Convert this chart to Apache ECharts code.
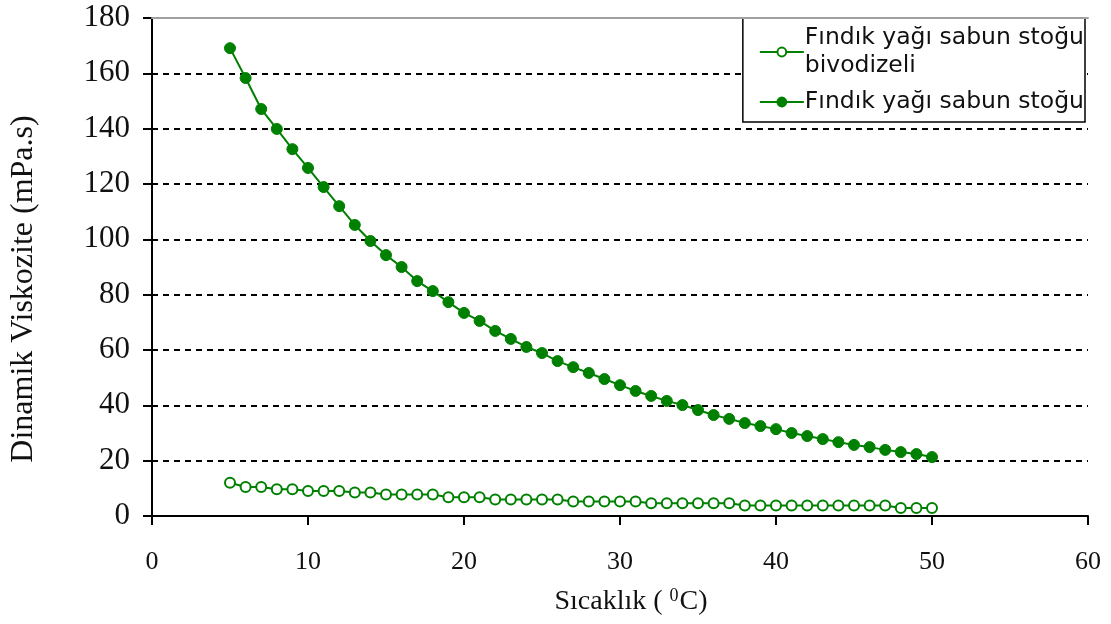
<!DOCTYPE html>
<html>
<head>
<meta charset="utf-8">
<script src="https://cdn.jsdelivr.net/npm/echarts@6/dist/echarts.min.js"></script>
<style>html,body{margin:0;padding:0;background:#fff;}#c{width:1111px;height:624px;}</style>
</head>
<body>
<div id="c"></div>
<script>
var temps = [5,6,7,8,9,10,11,12,13,14,15,16,17,18,19,20,21,22,23,24,25,26,27,28,29,30,31,32,33,34,35,36,37,38,39,40,41,42,43,44,45,46,47,48,49,50];
var biodiesel = [12.0,10.5,10.5,9.7,9.7,9.0,9.0,9.0,8.5,8.5,7.8,7.8,7.8,7.8,6.8,6.8,6.8,6.0,6.0,6.0,6.0,6.0,5.2,5.2,5.2,5.2,5.2,4.6,4.6,4.6,4.6,4.6,4.6,3.8,3.8,3.8,3.8,3.8,3.8,3.8,3.8,3.8,3.8,2.9,2.9,2.9];
var soapstock = [169.1,158.3,147.1,139.9,132.6,125.8,118.9,112.0,105.2,99.4,94.3,90.0,84.9,81.3,77.3,73.4,70.5,66.9,64.0,61.1,58.9,56.0,53.8,51.7,49.5,47.3,45.2,43.4,41.6,40.1,38.3,36.5,35.1,33.6,32.5,31.4,30.0,28.9,27.8,26.7,25.7,24.9,23.9,23.1,22.4,21.3];
var seriesNames = ['Fındık yağı sabun stoğu\nbivodizeli', 'Fındık yağı sabun stoğu'];
var yAxisTitle = 'Dinamik Viskozite (mPa.s)';

function pairs(xs, ys){ return xs.map(function(x,i){ return [x, ys[i]]; }); }

var green = '#008000';
var chart = echarts.init(document.getElementById('c'), null, {renderer:'canvas'});
chart.setOption({
  animation: false,
  backgroundColor: '#ffffff',
  grid: {left: 152, right: 23, top: 18, bottom: 108, containLabel: false},
  legend: {
    orient: 'vertical',
    right: 26, top: 18,
    backgroundColor: '#ffffff',
    borderColor: '#000000', borderWidth: 1.5,
    padding: [6, 1, 6, 16],
    itemGap: 8,
    itemWidth: 44, itemHeight: 11,
    textStyle: {fontFamily: 'DejaVu Sans', fontSize: 23.5, color: '#111', lineHeight: 28, padding: [0,0,0,-4]},
    data: seriesNames
  },
  xAxis: [{
    type: 'value', min: 0, max: 60, interval: 10,
    axisLine: {show: true, onZero: false, lineStyle: {color: '#000', width: 2}},
    axisTick: {show: true, inside: false, length: 9, lineStyle: {color: '#000', width: 2}},
    axisLabel: {margin: 33, fontFamily: 'Liberation Serif', fontSize: 26, color: '#111'},
    splitLine: {show: false},
    name: '{a|Sıcaklık (}{s|0}{a|C)}',
    nameLocation: 'middle', nameGap: 71,
    nameTextStyle: {
      fontFamily: 'Liberation Serif', fontSize: 28, color: '#111', padding: [0,0,0,22],
      rich: {
        a: {fontFamily: 'Liberation Serif', fontSize: 28, color: '#111', lineHeight: 30},
        s: {fontFamily: 'Liberation Serif', fontSize: 18, color: '#111', verticalAlign: 'top', padding: [0,1,10,7], lineHeight: 30}
      }
    }
  }, {
    type: 'value', min: 0, max: 60, position: 'top', z: 10,
    axisLine: {show: true, onZero: false, lineStyle: {color: '#a0a0a0', width: 2}},
    axisTick: {show: false}, axisLabel: {show: false}, splitLine: {show: false}
  }],
  yAxis: {
    type: 'value', min: 0, max: 180, interval: 20,
    axisLine: {show: true, onZero: false, lineStyle: {color: '#000', width: 2}},
    axisTick: {show: true, inside: false, length: 9, lineStyle: {color: '#000', width: 2}},
    axisLabel: {margin: 22, fontFamily: 'Liberation Serif', fontSize: 31, color: '#111'},
    splitLine: {show: true, lineStyle: {color: '#000', width: 2, type: [6, 5]}},
    name: yAxisTitle,
    nameLocation: 'middle', nameGap: 112, nameRotate: 90,
    nameTextStyle: {fontFamily: 'Liberation Serif', fontSize: 32, color: '#111', padding: [0, 44, 0, 0]}
  },
  series: [{
    name: seriesNames[0], type: 'line', xAxisIndex: 0,
    data: pairs(temps, biodiesel),
    symbol: 'circle', symbolSize: 10, showAllSymbol: true,
    lineStyle: {color: green, width: 2},
    itemStyle: {color: '#ffffff', borderColor: green, borderWidth: 2}
  }, {
    name: seriesNames[1], type: 'line', xAxisIndex: 0,
    data: pairs(temps, soapstock),
    symbol: 'circle', symbolSize: 11, showAllSymbol: true,
    lineStyle: {color: green, width: 2},
    itemStyle: {color: green, borderColor: green, borderWidth: 1}
  }]
});
</script>
</body>
</html>
